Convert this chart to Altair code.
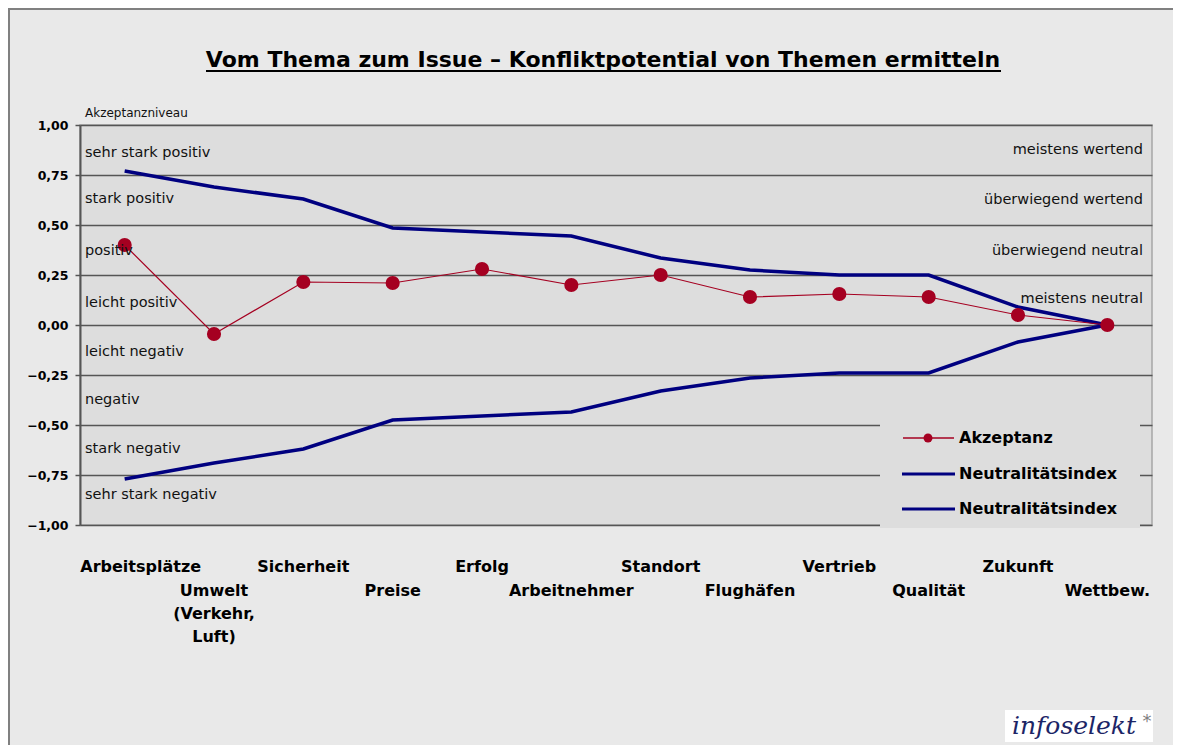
import altair as alt
import pandas as pd

categories = ["Arbeitsplätze", "Umwelt\n(Verkehr,\nLuft)", "Sicherheit", "Preise", "Erfolg",
              "Arbeitnehmer", "Standort", "Flughäfen", "Vertrieb", "Qualität", "Zukunft", "Wettbew."]
akzeptanz = [0.40, -0.045, 0.215, 0.21, 0.28, 0.20, 0.25, 0.14, 0.155, 0.14, 0.05, 0.0]
neutral_upper = [0.77, 0.69, 0.63, 0.485, 0.465, 0.445, 0.335, 0.275, 0.25, 0.25, 0.09, 0.0]
neutral_lower = [-0.77, -0.69, -0.62, -0.475, -0.455, -0.435, -0.33, -0.265, -0.24, -0.24, -0.085, 0.0]
y_ticks = [1.0, 0.75, 0.5, 0.25, 0.0, -0.25, -0.5, -0.75, -1.0]
left_labels = ["sehr stark positiv", "stark positiv", "positiv", "leicht positiv",
               "leicht negativ", "negativ", "stark negativ", "sehr stark negativ"]
left_label_y = [0.86, 0.63, 0.37, 0.11, -0.135, -0.375, -0.62, -0.85]
right_labels = ["meistens wertend", "überwiegend wertend", "überwiegend neutral", "meistens neutral"]
right_label_y = [0.875, 0.627, 0.37, 0.13]
legend_labels = ["Akzeptanz", "Neutralitätsindex", "Neutralitätsindex"]
title_text = "Vom Thema zum Issue – Konfliktpotential von Themen ermitteln"
y_title = "Akzeptanzniveau"

NAVY = "#000080"
RED = "#a50021"
FONT = "DejaVu Sans"

cat_df = pd.DataFrame({"Thema": categories, "Wert": akzeptanz, "idx": list(range(len(categories)))})
neu_df = pd.DataFrame({
    "Thema": categories * 2,
    "Serie": ["oben"] * len(categories) + ["unten"] * len(categories),
    "Wert": neutral_upper + neutral_lower,
})
left_df = pd.DataFrame({"text": left_labels, "Wert": left_label_y})
right_df = pd.DataFrame({"text": right_labels, "Wert": right_label_y})
one = pd.DataFrame({"a": [0]})

x_enc = alt.X("Thema:N", scale=alt.Scale(type="point", padding=0.5, domain=categories), axis=None)
y_axis = alt.Axis(values=y_ticks, title=None,
                  labelExpr="replace(format(datum.value, '.2f'), '.', ',')",
                  labelFont=FONT, labelFontWeight="bold", labelFontSize=12.5, labelColor="black",
                  labelPadding=7, tickSize=5, tickColor="#555555", tickWidth=1.5,
                  domainColor="#555555", domainWidth=2,
                  grid=True, gridColor="#555555", gridWidth=1.3)
y_scale = alt.Scale(domain=[-1, 1], nice=False, zero=False)


def y_enc(field="Wert:Q"):
    return alt.Y(field, scale=y_scale, axis=y_axis)


border = alt.Chart(one).mark_rect(fill="transparent", stroke="#808080", strokeWidth=2).encode(
    x=alt.value(-71), x2=alt.value(1200), y=alt.value(-116), y2=alt.value(760))

neutral = alt.Chart(neu_df).mark_line(color=NAVY, strokeWidth=3.5).encode(
    x=x_enc, y=y_enc(), detail="Serie:N")
akz_line = alt.Chart(cat_df).mark_line(color=RED, strokeWidth=1.2).encode(x=x_enc, y=y_enc())
akz_pts = alt.Chart(cat_df).mark_circle(color=RED, size=200, opacity=1).encode(x=x_enc, y=y_enc())

left_txt = alt.Chart(left_df).mark_text(font=FONT, fontSize=14.5, align="left", baseline="middle",
                                        color="#111111").encode(
    x=alt.value(5), y=y_enc(), text="text:N")
right_txt = alt.Chart(right_df).mark_text(font=FONT, fontSize=14.5, align="right", baseline="middle",
                                          color="#111111").encode(
    x=alt.value(1063), y=y_enc(), text="text:N")

ytitle = alt.Chart(one).mark_text(font=FONT, fontSize=12, align="left", baseline="middle",
                                  text=y_title, color="#111111").encode(
    x=alt.value(5), y=alt.value(-12))

lab_style = dict(font=FONT, fontWeight="bold", fontSize=16, baseline="alphabetic",
                 lineBreak="\n", lineHeight=23, color="black")
xlab_first = alt.Chart(cat_df).transform_filter("datum.idx == 0").mark_text(dx=16, **lab_style).encode(
    x=x_enc, y=alt.value(447), text="Thema:N")
xlab_even = alt.Chart(cat_df).transform_filter("datum.idx % 2 == 0 && datum.idx > 0").mark_text(
    **lab_style).encode(x=x_enc, y=alt.value(447), text="Thema:N")
xlab_odd = alt.Chart(cat_df).transform_filter("datum.idx % 2 == 1").mark_text(**lab_style).encode(
    x=x_enc, y=alt.value(471), text="Thema:N")

title = alt.Chart(one).mark_text(font=FONT, fontWeight="bold", fontSize=22, align="center",
                                 baseline="alphabetic", text=title_text, color="black").encode(
    x=alt.value(523), y=alt.value(-58))
underline = alt.Chart(one).mark_rule(color="black", strokeWidth=2).encode(
    x=alt.value(126), x2=alt.value(921), y=alt.value(-54))

legend_box = alt.Chart(one).mark_rect(fill="#dddddd").encode(
    x=alt.value(800), x2=alt.value(1060), y=alt.value(285), y2=alt.value(403))
leg1_rule = alt.Chart(one).mark_rule(color=RED, strokeWidth=1.5).encode(
    x=alt.value(823), x2=alt.value(874), y=alt.value(313))
leg1_pt = alt.Chart(one).mark_circle(color=RED, size=80, opacity=1).encode(
    x=alt.value(848), y=alt.value(313))
leg2_rule = alt.Chart(one).mark_rule(color=NAVY, strokeWidth=3).encode(
    x=alt.value(822), x2=alt.value(875), y=alt.value(349))
leg3_rule = alt.Chart(one).mark_rule(color=NAVY, strokeWidth=3).encode(
    x=alt.value(822), x2=alt.value(875), y=alt.value(384))
leg_style = dict(font=FONT, fontWeight="bold", fontSize=16, align="left", baseline="middle", color="black")
leg1_txt = alt.Chart(one).mark_text(text=legend_labels[0], **leg_style).encode(x=alt.value(879), y=alt.value(313))
leg2_txt = alt.Chart(one).mark_text(text=legend_labels[1], **leg_style).encode(x=alt.value(879), y=alt.value(349))
leg3_txt = alt.Chart(one).mark_text(text=legend_labels[2], **leg_style).encode(x=alt.value(879), y=alt.value(384))

logo_box = alt.Chart(one).mark_rect(fill="white").encode(
    x=alt.value(925), x2=alt.value(1073), y=alt.value(585), y2=alt.value(617))
logo_txt = alt.Chart(one).mark_text(font="DejaVu Serif", fontStyle="italic", fontSize=25, color="#1c2566",
                                    align="left", baseline="alphabetic", text="infoselekt").encode(
    x=alt.value(932), y=alt.value(609))
logo_star = alt.Chart(one).mark_text(font=FONT, fontSize=18, color="#808080", align="center",
                                     baseline="middle", text="*").encode(
    x=alt.value(1067), y=alt.value(597))

chart = alt.layer(
    border, neutral, akz_line, akz_pts, left_txt, right_txt, ytitle,
    xlab_first, xlab_even, xlab_odd, title, underline,
    legend_box, leg1_rule, leg1_pt, leg2_rule, leg3_rule, leg1_txt, leg2_txt, leg3_txt,
    logo_box, logo_txt, logo_star,
).properties(
    width=1072, height=400,
    autosize=alt.AutoSizeParams(type="none"),
    padding={"left": 72, "top": 117, "right": 21, "bottom": 220},
).configure(
    background="#e9e9e9",
).configure_view(
    fill="#dddddd", stroke="#a6a6a6", strokeWidth=1.5,
)

chart.save("out.html", embed_options={"renderer": "svg", "actions": False})
